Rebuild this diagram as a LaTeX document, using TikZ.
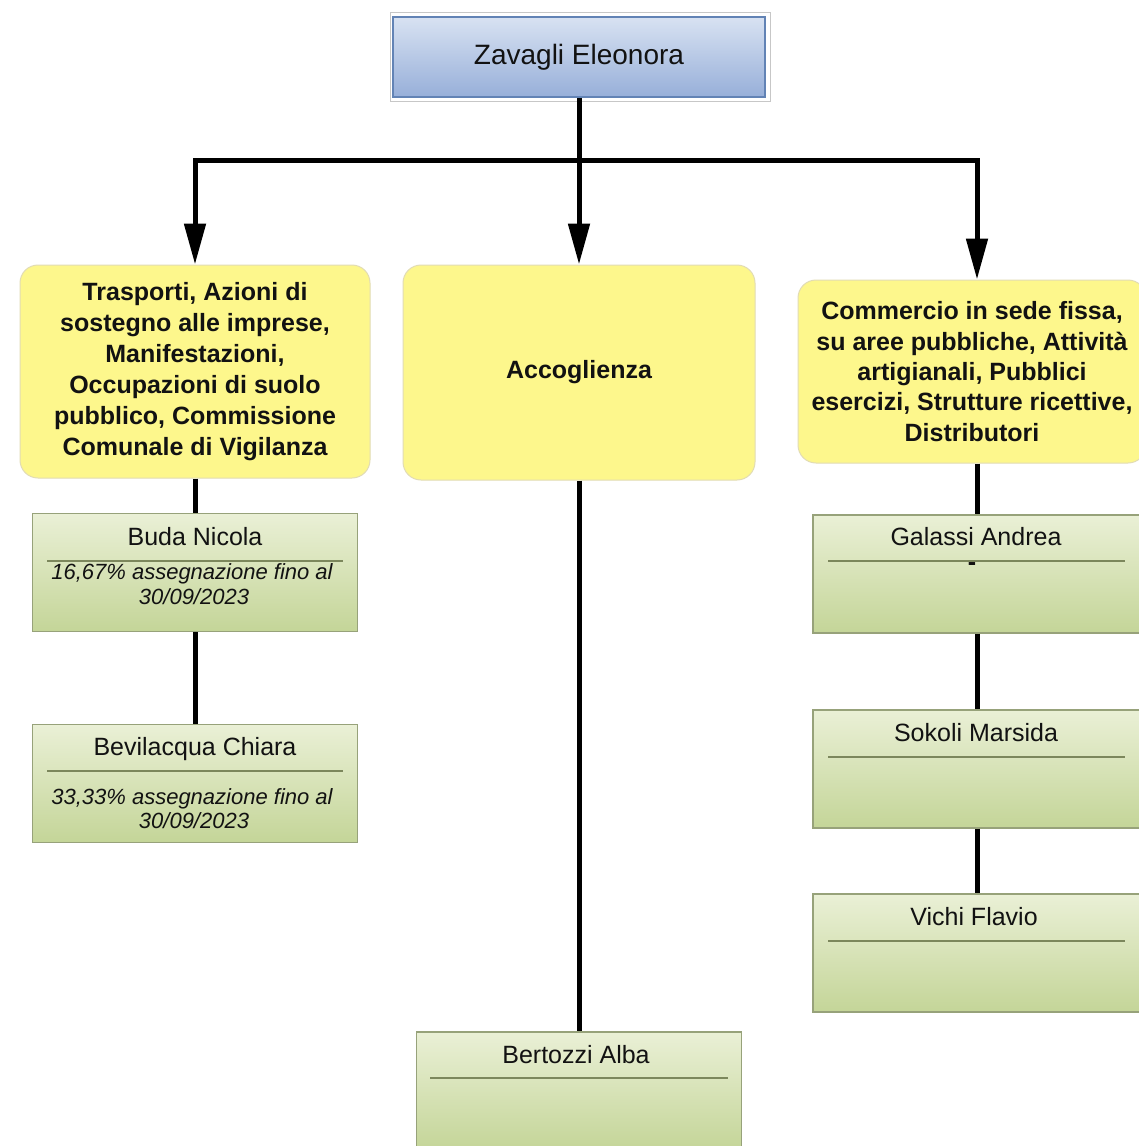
\documentclass[tikz,border=0pt]{standalone}
\usepackage{fontspec}
\setmainfont{Liberation Sans}
\usetikzlibrary{arrows.meta}

\definecolor{ink}{HTML}{121212}
\definecolor{btop}{HTML}{D8E2F2}
\definecolor{bbot}{HTML}{97AFD9}
\definecolor{bbord}{HTML}{6283B5}
\definecolor{yfill}{HTML}{FDF78C}
\definecolor{ybord}{HTML}{E2DCB4}
\definecolor{gtop}{HTML}{EAF0D6}
\definecolor{gbot}{HTML}{C4D598}
\definecolor{gbord}{HTML}{97A27A}
\definecolor{gline}{HTML}{7C875C}

\begin{document}
\begin{tikzpicture}[x=1pt,y=-1pt,
  conn/.style={line width=5pt, draw=black},
  arr/.style={conn, -{Triangle[length=41pt,width=21pt]}},
  framebox/.style={draw=black!22, line width=1pt, fill=white, minimum width=380pt, minimum height=89pt, inner sep=0pt},
  headbox/.style={draw=bbord, line width=1.5pt, top color=btop, bottom color=bbot, minimum width=372pt, minimum height=80pt, inner sep=0pt, text=ink, font=\fontsize{28}{32}\selectfont},
  yellowbox/.style={draw=ybord, line width=1pt, fill=yfill, rounded corners=18pt, align=center, inner sep=0pt, text=ink, font=\fontsize{25}{31}\selectfont\bfseries},
  greenbox/.style={draw=gbord, line width=1.2pt, top color=gtop, bottom color=gbot, inner sep=0pt, minimum width=325pt, minimum height=118pt},
  wide/.style={minimum width=328pt},
  personlabel/.style={font=\fontsize{25}{30}\selectfont, text=ink, anchor=base, inner sep=0pt},
  notelabel/.style={font=\fontsize{22}{25}\selectfont\itshape, text=ink, anchor=base, inner sep=0pt},
  divider/.style={draw=gline, line width=1.5pt}
]
\useasboundingbox[fill=white] (0,0) rectangle (1138,1146);

% head of the office
\node[framebox] (frame) at (580,56.5) {};
\node[headbox] (top) at (579,57) {Zavagli Eleonora};

% three areas
\node[yellowbox, minimum width=350pt, minimum height=213pt] (yL) at (195,371.5)
  {Trasporti, Azioni di\\sostegno alle imprese,\\Manifestazioni,\\Occupazioni di suolo\\pubblico, Commissione\\Comunale di Vigilanza};
\node[yellowbox, minimum width=352pt, minimum height=215pt] (yC) at (579,372.5) {Accoglienza};
\node[yellowbox, minimum width=348pt, minimum height=183pt, font=\fontsize{25}{30.3}\selectfont\bfseries] (yR) at (972,371.5)
  {Commercio in sede fissa,\\su aree pubbliche, Attività\\artigianali, Pubblici\\esercizi, Strutture ricettive,\\Distributori};

% staff boxes
\node[greenbox] (g1) at (195,572.5) {};
\node[greenbox] (g2) at (195,783.5) {};
\node[greenbox, wide] (g3) at (977,574) {};
\node[greenbox, wide] (g4) at (977,769) {};
\node[greenbox, wide] (g5) at (977,953) {};
\node[greenbox] (g6) at (579,1091) {};

% branch lines with arrows
\coordinate (hub) at (579,160);
\draw[conn] (top.south) -- (hub);
\draw[arr] (hub) -| (yL.north);
\draw[arr] (hub) -- (yC.north);
\draw[arr] (hub) -| (g3.north |- yR.north);

% plain connectors
\draw[conn] (yL.south) -- (g1.north);
\draw[conn] (g1.south) -- (g2.north);
\draw[conn] (yC.south) -- (g6.north);
\draw[conn] (yR.south -| g3.north) -- (g3.north);
\draw[conn] (g3.south) -- (g4.north);
\draw[conn] (g4.south) -- (g5.north);

% names and dividers
\node[personlabel] (n1) at (195,545) {Buda Nicola};
\draw[divider] (47,561) -- (343,561);
\node[notelabel] (n1a) at (192,579) {16,67\% assegnazione fino al};
\node[notelabel] (n1b) at (194,604) {30/09/2023};

\node[personlabel] (n2) at (195,755) {Bevilacqua Chiara};
\draw[divider] (47,771) -- (343,771);
\node[notelabel] (n2a) at (192,804) {33,33\% assegnazione fino al};
\node[notelabel] (n2b) at (194,828) {30/09/2023};

\node[personlabel] (n3) at (976,545) {Galassi Andrea};
\draw[divider] (828,561) -- (1125,561);
\node[personlabel, font=\fontsize{25}{30}\selectfont\bfseries] (n3a) at (972,570) {-};

\node[personlabel] (n4) at (976,741) {Sokoli Marsida};
\draw[divider] (828,757) -- (1125,757);

\node[personlabel] (n5) at (974,925) {Vichi Flavio};
\draw[divider] (828,941) -- (1125,941);

\node[personlabel] (n6) at (576,1063) {Bertozzi Alba};
\draw[divider] (430,1078) -- (728,1078);
\end{tikzpicture}
\end{document}
